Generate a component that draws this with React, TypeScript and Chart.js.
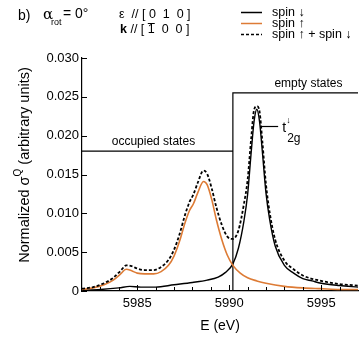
import React, { useEffect, useRef } from "react";
import { Chart, registerables } from "chart.js";

Chart.register(...registerables);

// ---- data ----
const spinDownE = [5982.0, 5983.0, 5984.0, 5984.6, 5985.2, 5986.0, 5987.0, 5988.0, 5988.8, 5989.4, 5989.8, 5990.2, 5990.5, 5990.8, 5991.0, 5991.2, 5991.35, 5991.5, 5991.65, 5991.8, 5992.0, 5992.2, 5992.5, 5993.0, 5993.5, 5994.0, 5994.5, 5995.0, 5996.0, 5997.0];
const spinDownY = [0.0001, 0.0002, 0.0004, 0.0006, 0.0005, 0.0005, 0.0008, 0.0011, 0.0014, 0.0018, 0.0024, 0.0035, 0.0055, 0.0090, 0.0124, 0.0180, 0.0218, 0.0234, 0.0218, 0.0180, 0.0126, 0.0092, 0.0058, 0.0033, 0.0023, 0.0016, 0.0013, 0.0010, 0.0007, 0.0005];

const spinUpE = [5982.0, 5982.6, 5983.2, 5983.7, 5984.1, 5984.4, 5984.7, 5985.0, 5985.4, 5985.9, 5986.3, 5986.7, 5987.0, 5987.3, 5987.6, 5987.85, 5988.05, 5988.3, 5988.6, 5988.8, 5989.05, 5989.3, 5989.6, 5989.9, 5990.2, 5990.6, 5991.0, 5991.5, 5992.0, 5993.0, 5994.0, 5995.0, 5996.0, 5997.0];
const spinUpY = [0.0002, 0.0004, 0.0008, 0.0014, 0.0022, 0.0028, 0.0026, 0.0023, 0.0022, 0.0022, 0.0025, 0.0033, 0.0045, 0.0064, 0.0088, 0.0104, 0.0112, 0.0127, 0.0141, 0.0137, 0.0118, 0.0092, 0.0066, 0.0046, 0.0033, 0.0023, 0.0017, 0.0013, 0.0010, 0.0006, 0.0004, 0.0003, 0.0002, 0.0002];

const sumE = [5982.0, 5982.6, 5983.2, 5983.7, 5984.1, 5984.4, 5984.7, 5985.0, 5985.4, 5985.9, 5986.3, 5986.7, 5987.0, 5987.3, 5987.6, 5987.85, 5988.05, 5988.3, 5988.6, 5988.8, 5989.05, 5989.3, 5989.6, 5989.9, 5990.2, 5990.5, 5990.8, 5991.0, 5991.2, 5991.35, 5991.5, 5991.65, 5991.8, 5992.0, 5992.2, 5992.5, 5993.0, 5993.5, 5994.0, 5995.0, 5996.0, 5997.0];
const sumY = [0.0003, 0.0005, 0.0010, 0.0017, 0.0026, 0.0033, 0.0032, 0.0029, 0.0027, 0.0027, 0.0031, 0.0040, 0.0053, 0.0073, 0.0098, 0.0115, 0.0124, 0.0140, 0.0155, 0.0151, 0.0132, 0.0108, 0.0085, 0.0070, 0.0067, 0.0078, 0.0112, 0.0143, 0.0198, 0.0233, 0.0238, 0.0231, 0.0193, 0.0137, 0.0101, 0.0066, 0.0039, 0.0028, 0.0020, 0.0013, 0.0009, 0.0007];

const occupiedLevel = 0.018;
const emptyLevel = 0.0255;
const fermiE = 5990.2;
const eMin = 5982;
const eMax = 5997;

const xTickLabels = [5985, 5990, 5995];
const xMinorTicks = [5983, 5984, 5985, 5986, 5987, 5988, 5989, 5990, 5991, 5992, 5993, 5994, 5995, 5996];
const yTickValues = [0, 0.005, 0.01, 0.015, 0.02, 0.025, 0.03];

const legendLabels = ["spin \u2193", "spin \u2191", "spin \u2191 + spin \u2193"];
const t2gPoint = [5991.68, 0.0213];
const t2gEnd = 5992.66;

const FONT = "'Liberation Sans', Arial, Helvetica, sans-serif";
const ORANGE = "#dd7b35";

const toPts = (xs: number[], ys: number[]) => xs.map((x, i) => ({ x, y: ys[i] }));

const annotPlugin = {
  id: "annot",
  afterDraw(chart: any) {
    const ctx = chart.ctx as CanvasRenderingContext2D;
    const xs = chart.scales.x;
    const ys = chart.scales.y;
    ctx.save();
    ctx.strokeStyle = "#000";
    ctx.fillStyle = "#000";
    ctx.lineWidth = 1;
    // inward ticks
    xMinorTicks.forEach((v) => {
      const px = Math.round(xs.getPixelForValue(v)) + 0.5;
      const len = xTickLabels.includes(v) ? 6 : 4;
      ctx.beginPath();
      ctx.moveTo(px, ys.bottom);
      ctx.lineTo(px, ys.bottom - len);
      ctx.stroke();
    });
    yTickValues.forEach((v) => {
      const py = Math.round(ys.getPixelForValue(v)) + 0.5;
      ctx.beginPath();
      ctx.moveTo(xs.left, py);
      ctx.lineTo(xs.left + 5, py);
      ctx.stroke();
    });

    // state labels
    ctx.font = `12px ${FONT}`;
    ctx.textAlign = "center";
    ctx.textBaseline = "alphabetic";
    ctx.fillText("occupied states", (xs.left + xs.getPixelForValue(fermiE)) / 2 - 4, ys.getPixelForValue(occupiedLevel) - 6);
    ctx.fillText("empty states", (xs.right + xs.getPixelForValue(fermiE)) / 2 + 13, ys.getPixelForValue(emptyLevel) - 6);

    // t2g leader
    const lx0 = xs.getPixelForValue(t2gPoint[0]);
    const lx1 = xs.getPixelForValue(t2gEnd);
    const ly = Math.round(ys.getPixelForValue(t2gPoint[1])) + 0.5;
    ctx.lineWidth = 1.2;
    ctx.beginPath();
    ctx.moveTo(lx0, ly);
    ctx.lineTo(lx1, ly);
    ctx.stroke();
    ctx.textAlign = "left";
    ctx.font = `14px ${FONT}`;
    ctx.fillText("t", lx1 + 4, ly + 5);
    ctx.font = `9px ${FONT}`;
    ctx.fillText("\u2193", lx1 + 8, ly - 4);
    ctx.font = `12px ${FONT}`;
    ctx.fillText("2g", lx1 + 9, ly + 15);

    // y title
    ctx.save();
    ctx.translate(25, 165);
    ctx.rotate(-Math.PI / 2);
    ctx.textBaseline = "middle";
    ctx.textAlign = "left";
    const big = `14.5px ${FONT}`;
    const small = `10px ${FONT}`;
    const p1 = "Normalized \u03C3";
    const p2 = "Q";
    const p3 = " (arbitrary units)";
    ctx.font = big;
    const w1 = ctx.measureText(p1).width;
    const w3 = ctx.measureText(p3).width;
    ctx.font = small;
    const w2 = ctx.measureText(p2).width;
    let sx = -(w1 + w2 + w3) / 2;
    ctx.font = big;
    ctx.fillText(p1, sx, 0);
    sx += w1;
    ctx.font = small;
    ctx.fillText(p2, sx, -7);
    sx += w2;
    ctx.font = big;
    ctx.fillText(p3, sx, 0);
    ctx.restore();

    // x title
    ctx.textAlign = "center";
    ctx.textBaseline = "alphabetic";
    ctx.font = `14px ${FONT}`;
    ctx.fillText("E (eV)", (xs.left + xs.right) / 2, 330);

    // header
    ctx.textAlign = "left";
    ctx.font = `14px ${FONT}`;
    ctx.fillText("b)", 18, 20);
    ctx.font = `15px 'DejaVu Serif', serif`;
    ctx.fillText("\u03B1", 43, 19);
    ctx.font = `9px ${FONT}`;
    ctx.fillText("rot", 51, 25);
    ctx.font = `14px ${FONT}`;
    ctx.fillText("= 0\u00B0", 63, 18);
    ctx.font = `12.5px ${FONT}`;
    ctx.fillText("\u03B5  // [ 0  1  0 ]", 119, 18);
    ctx.font = `bold 12.5px ${FONT}`;
    ctx.fillText("k", 120, 33);
    const kw = ctx.measureText("k").width;
    ctx.font = `12.5px ${FONT}`;
    const pre = " // [ ";
    ctx.fillText(pre + "1  0  0 ]", 120 + kw, 33);
    const preW = ctx.measureText(pre).width;
    const oneW = ctx.measureText("1").width;
    ctx.lineWidth = 1;
    ctx.beginPath();
    ctx.moveTo(120 + kw + preW, 23.5);
    ctx.lineTo(120 + kw + preW + oneW, 23.5);
    ctx.stroke();

    // legend
    const rows = [12, 23, 34];
    const styles = [
      { c: "#000", d: [] as number[] },
      { c: ORANGE, d: [] as number[] },
      { c: "#000", d: [3, 2] },
    ];
    rows.forEach((ry, i) => {
      ctx.strokeStyle = styles[i].c;
      ctx.lineWidth = 1.5;
      ctx.setLineDash(styles[i].d);
      ctx.beginPath();
      ctx.moveTo(241, ry + 0.5);
      ctx.lineTo(262, ry + 0.5);
      ctx.stroke();
      ctx.setLineDash([]);
      ctx.fillStyle = "#000";
      ctx.font = `12.5px ${FONT}`;
      ctx.textBaseline = "middle";
      ctx.fillText(legendLabels[i], 272, ry + 1);
    });
    ctx.restore();
  },
};

export default function App() {
  const ref = useRef<HTMLCanvasElement | null>(null);
  useEffect(() => {
    if (!ref.current) return;
    const chart = new Chart(ref.current, {
      type: "line",
      data: {
        datasets: [
          {
            label: legendLabels[2],
            data: toPts(sumE, sumY),
            borderColor: "#000",
            borderWidth: 1.8,
            borderDash: [3, 2],
            pointRadius: 0,
            cubicInterpolationMode: "monotone",
            order: 0,
          },
          {
            label: legendLabels[1],
            data: toPts(spinUpE, spinUpY),
            borderColor: ORANGE,
            borderWidth: 1.6,
            pointRadius: 0,
            cubicInterpolationMode: "monotone",
            order: 1,
          },
          {
            label: legendLabels[0],
            data: toPts(spinDownE, spinDownY),
            borderColor: "#000",
            borderWidth: 1.4,
            pointRadius: 0,
            cubicInterpolationMode: "monotone",
            order: 2,
          },
          {
            label: "states",
            data: [
              { x: eMin, y: occupiedLevel },
              { x: fermiE, y: occupiedLevel },
              { x: fermiE, y: 0 },
              { x: fermiE, y: emptyLevel },
              { x: eMax, y: emptyLevel },
            ],
            borderColor: "#000",
            borderWidth: 1.2,
            pointRadius: 0,
            tension: 0,
            order: 3,
          },
        ],
      },
      options: {
        animation: false,
        responsive: false,
        layout: { padding: { left: 0, top: 58, right: 6, bottom: 0 } },
        plugins: { legend: { display: false }, tooltip: { enabled: false } },
        scales: {
          x: {
            type: "linear",
            min: eMin,
            max: eMax,
            grid: { display: false, drawTicks: false },
            border: { display: true, color: "#000", width: 1.2 },
            afterBuildTicks: (s: any) => {
              s.ticks = xTickLabels.map((v) => ({ value: v }));
            },
            afterFit: (s: any) => {
              s.height = 47;
            },
            ticks: {
              color: "#000",
              font: { family: FONT, size: 13 },
              padding: 5,
              maxRotation: 0,
              callback: (v: any) => String(v),
            },
          },
          y: {
            type: "linear",
            min: 0,
            max: 0.03,
            grid: { display: false, drawTicks: false },
            border: { display: true, color: "#000", width: 1.2 },
            afterBuildTicks: (s: any) => {
              s.ticks = yTickValues.map((v) => ({ value: v }));
            },
            afterFit: (s: any) => {
              s.width = 82;
            },
            ticks: {
              color: "#000",
              font: { family: FONT, size: 13 },
              padding: 3,
              callback: (v: any) => (v === 0 ? "0" : Number(v).toFixed(3)),
            },
          },
        },
      },
      plugins: [annotPlugin],
    } as any);
    return () => chart.destroy();
  }, []);
  return (
    <div style={{ position: "absolute", left: 0, top: 0, width: 364, height: 338, background: "#fff" }}>
      <canvas ref={ref} width={364} height={338} style={{ display: "block" }} />
    </div>
  );
}
